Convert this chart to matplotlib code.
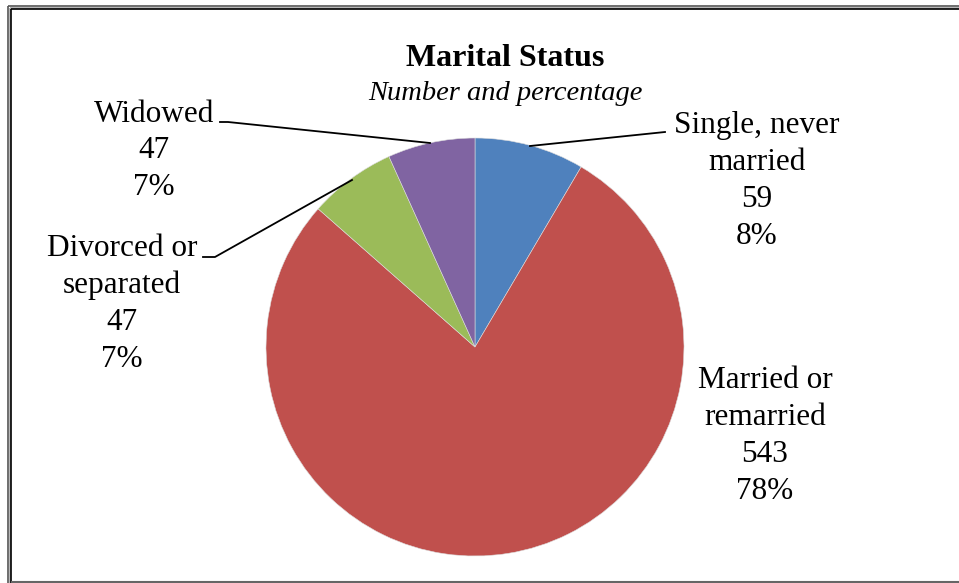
import matplotlib
matplotlib.use("Agg")
import matplotlib.pyplot as plt
from matplotlib.lines import Line2D

categories = ["Single, never\nmarried", "Married or\nremarried", "Divorced or\nseparated", "Widowed"]
values = [59, 543, 47, 47]
percents = ["8%", "78%", "7%", "7%"]
colors = ["#4F81BD", "#C0504D", "#9BBB59", "#8064A2"]

W, H = 959, 583
fig = plt.figure(figsize=(W / 100, H / 100), dpi=100)
ax = fig.add_axes([0, 0, 1, 1])

def Y(y):
    return H - y

cx, cy, r = 475, 347, 209
ax.pie(values, colors=colors, startangle=90, counterclock=False,
       center=(cx, Y(cy)), radius=r, frame=True,
       wedgeprops=dict(linewidth=0.4, edgecolor="#dddddd"))
ax.set_xlim(0, W)
ax.set_ylim(0, H)
ax.axis("off")

serif = "Liberation Serif"
fs = 22.5
ax.text(505, Y(58), "Marital Status", ha="center", va="center",
        fontsize=23, fontweight="bold", family=serif)
ax.text(505, Y(93), "Number and percentage", ha="center", va="center",
        fontsize=20.5, fontstyle="italic", family=serif)

label_pos = [(757, 181), (765, 436), (122, 304), (154, 151)]
for cat, v, p, (lx, ly) in zip(categories, values, percents, label_pos):
    ax.text(lx, Y(ly), f"{cat}\n{v}\n{p}", ha="center", va="center",
            fontsize=fs, family=serif, linespacing=1.35)

# leader lines
leaders = [
    [(530, 146), (665, 132)],
    [(203, 257), (215, 257), (352, 180)],
    [(220, 122), (228, 122), (430, 143)],
]
for pts in leaders:
    xs = [p[0] for p in pts]
    ys = [Y(p[1]) for p in pts]
    ax.plot(xs, ys, color="black", linewidth=1.3)

# frame
def fl(x0, y0, x1, y1, c, lw):
    fig.add_artist(Line2D([x0 / W, x1 / W], [1 - y0 / H, 1 - y1 / H],
                          transform=fig.transFigure, color=c, linewidth=lw,
                          solid_capstyle="butt"))

fl(8, 6, 8, 583, "#555555", 1.2)
fl(8, 6, 959, 6, "#555555", 1.2)
fl(9.5, 7.5, 9.5, 583, "#aaaaaa", 1.2)
fl(9.5, 7.5, 959, 7.5, "#aaaaaa", 1.2)
fl(11, 9, 11, 583, "#000000", 1.2)
fl(11, 9, 959, 9, "#000000", 1.2)
fl(11, 581.5, 959, 581.5, "#666666", 1.5)

fig.savefig("out.png", dpi=100, facecolor="white")
